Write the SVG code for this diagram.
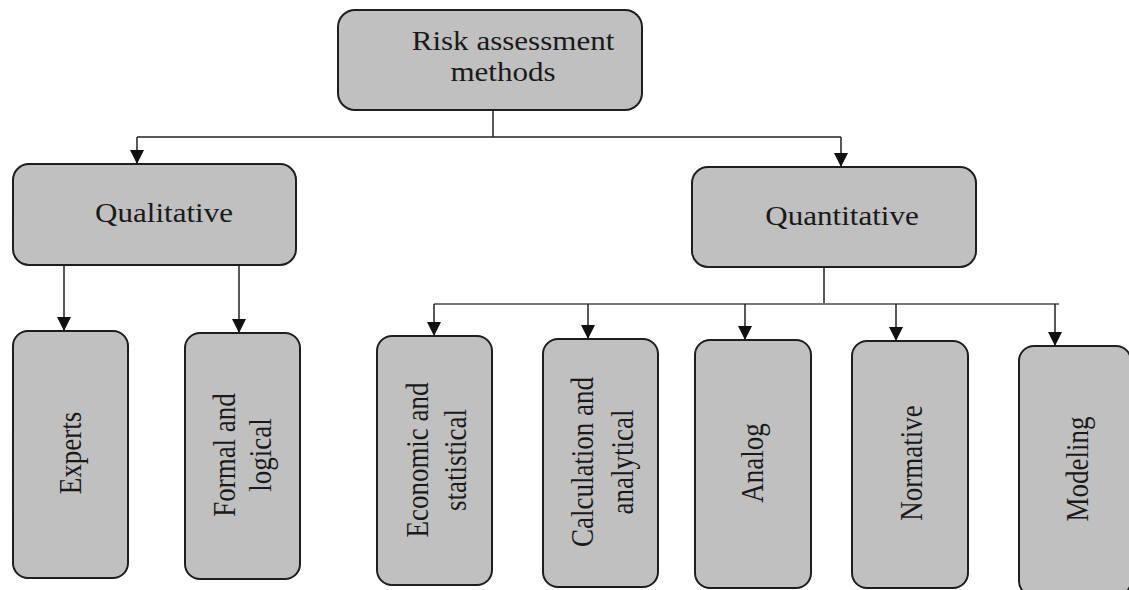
<svg xmlns="http://www.w3.org/2000/svg" width="1129" height="590" viewBox="0 0 1129 590">
<style>
.box{fill:#c0c0c0;stroke:#1e1e1e;stroke-width:2}
.t{font-family:"Liberation Serif","Times New Roman",serif;font-size:27px;fill:#1a1a1a;text-anchor:middle}
.c{fill:none;stroke:#222;stroke-width:1.5}
.g{fill:none;stroke:#777;stroke-width:2}
</style>
<defs>
<marker id="ah" markerUnits="userSpaceOnUse" markerWidth="15" markerHeight="15" refX="14" refY="7" orient="auto">
<path d="M0,0 L14,7 L0,14 z" fill="#111"/>
</marker>
</defs>
<rect width="1129" height="590" fill="#fff"/>
<g id="connectors">
<path class="c" d="M493,110 V137"/>
<path class="c" d="M137,137 H841"/>
<path class="c" d="M137,137 V164" marker-end="url(#ah)"/>
<path class="c" d="M841,137 V167" marker-end="url(#ah)"/>
<path class="c" d="M64,265 V331" marker-end="url(#ah)"/>
<path class="c" d="M239,265 V333" marker-end="url(#ah)"/>
<path class="c" d="M824,267 V304"/>
<path class="g" d="M434,304 H1059"/>
<path class="c" d="M434,304 V336" marker-end="url(#ah)"/>
<path class="c" d="M588,304 V339" marker-end="url(#ah)"/>
<path class="c" d="M745,304 V340" marker-end="url(#ah)"/>
<path class="c" d="M896,304 V341" marker-end="url(#ah)"/>
<path class="c" d="M1055,304 V346" marker-end="url(#ah)"/>
</g>
<g id="root">
<rect class="box" x="338" y="10" width="304" height="100" rx="17"/>
<text class="t" transform="translate(513,50) scale(1.15,1)">Risk assessment</text>
<text class="t" transform="translate(503,81) scale(1.15,1)">methods</text>
</g>
<g id="qualitative">
<rect class="box" x="13" y="164" width="283" height="101" rx="16"/>
<text class="t" transform="translate(164,222) scale(1.15,1)">Qualitative</text>
</g>
<g id="quantitative">
<rect class="box" x="692" y="167" width="284" height="100" rx="16"/>
<text class="t" transform="translate(842,225) scale(1.15,1)">Quantitative</text>
</g>
<g id="experts">
<rect class="box" x="13" y="331" width="115" height="247" rx="15"/>
<text class="t" transform="translate(81,453) scale(1.15,1) rotate(-90)">Experts</text>
</g>
<g id="formal">
<rect class="box" x="185" y="333" width="115" height="246" rx="15"/>
<text class="t" transform="translate(235,455) scale(1.15,1) rotate(-90)">Formal and<tspan x="0" y="31">logical</tspan></text>
</g>
<g id="economic">
<rect class="box" x="377" y="336" width="115" height="249" rx="15"/>
<text class="t" transform="translate(428,460) scale(1.15,1) rotate(-90)">Economic and<tspan x="0" y="33">statistical</tspan></text>
</g>
<g id="calculation">
<rect class="box" x="543" y="339" width="115" height="248" rx="15"/>
<text class="t" transform="translate(593,462) scale(1.15,1) rotate(-90)">Calculation and<tspan x="0" y="35">analytical</tspan></text>
</g>
<g id="analog">
<rect class="box" x="695" y="340" width="116" height="248" rx="15"/>
<text class="t" transform="translate(763,463) scale(1.15,1) rotate(-90)">Analog</text>
</g>
<g id="normative">
<rect class="box" x="852" y="341" width="116" height="247" rx="15"/>
<text class="t" transform="translate(922,463) scale(1.15,1) rotate(-90)">Normative</text>
</g>
<g id="modeling">
<rect class="box" x="1019" y="346" width="112" height="250" rx="15"/>
<text class="t" transform="translate(1088,469) scale(1.15,1) rotate(-90)">Modeling</text>
</g>
</svg>
